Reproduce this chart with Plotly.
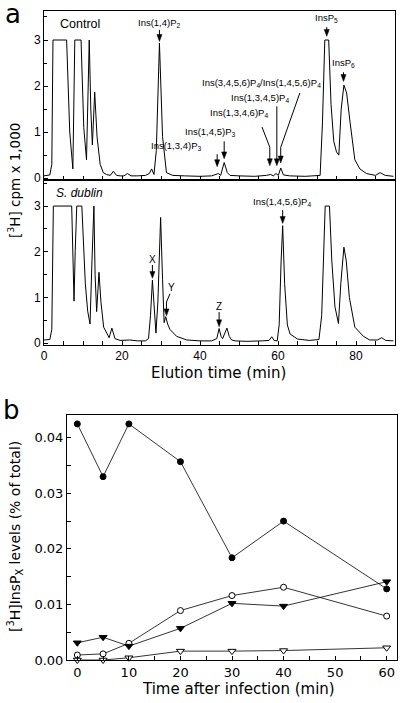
import plotly.graph_objects as go

# ---------------- Panel a : elution profiles ----------------
ctrl_time = [0, 1.5, 2.0, 2.3, 5.8, 6.6, 7.4, 7.9, 9.5, 10.2, 10.9, 11.6, 12.0, 12.4, 13.0,
             13.6, 14.4, 15.2, 16.0, 17.0, 17.8, 18.6, 19.5, 20.5, 21.4, 22.3, 24, 26, 27.0,
             27.6, 28.2, 28.8, 29.6, 30.4, 31.4, 33, 36, 40, 43, 44.7, 45.3, 46.2, 47.0, 47.7,
             50, 54, 57, 58.1, 58.8, 59.5, 60.1, 60.7, 61.4, 63, 67, 70.8, 71.4, 72.0, 73.0,
             73.6, 74.3, 75.0, 75.6, 76.2, 76.9, 77.6, 78.5, 79.7, 81, 82.7, 85, 86.2, 87.5, 89.6]
ctrl_cpm = [0.05, 0.07, 0.3, 3.0, 3.0, 1.0, 0.2, 3.0, 3.0, 1.1, 0.4, 3.0, 1.5, 0.72, 1.87,
            0.9, 0.3, 0.12, 0.08, 0.06, 0.15, 0.06, 0.05, 0.05, 0.1, 0.05, 0.05, 0.06, 0.1,
            0.2, 0.08, 0.6, 2.93, 0.9, 0.12, 0.06, 0.05, 0.04, 0.05, 0.1, 0.06, 0.34, 0.12, 0.06,
            0.05, 0.04, 0.06, 0.08, 0.05, 0.1, 0.06, 0.22, 0.07, 0.05, 0.04, 0.06, 1.2, 3.0, 3.0,
            1.6, 0.8, 0.57, 0.5, 1.5, 2.02, 1.85, 1.2, 0.4, 0.2, 0.1, 0.06, 0.12, 0.06, 0.04]

sd_time = [0, 1.5, 2.0, 2.4, 7.1, 7.4, 7.7, 8.0, 8.4, 9.7, 10.6, 11.2, 11.8, 12.3, 12.8, 13.1,
           13.5, 14.1, 14.6, 15.3, 16.1, 16.7, 17.4, 18.2, 19.5, 22, 24, 26, 26.8, 27.3, 27.8,
           28.3, 28.7, 29.2, 29.9, 30.4, 30.8, 31.2, 31.7, 32.3, 34, 36.6, 40, 43, 44.3, 44.9,
           45.4, 45.8, 46.9, 47.5, 48.1, 49, 52, 56, 57.7, 58.4, 59.0, 59.8, 60.3, 60.8, 61.2,
           61.7, 62.4, 63.1, 63.9, 65, 68, 70.5, 71.2, 72.1, 73.2, 73.8, 74.6, 75.5, 76.1, 76.9,
           77.5, 78.3, 79.7, 81.9, 83.5, 85.5, 86.6, 87.6, 89.6]
sd_cpm = [0.07, 0.08, 0.3, 3.0, 3.0, 1.8, 0.92, 2.0, 3.0, 3.0, 1.3, 0.7, 0.42, 1.8, 3.0, 1.5,
          0.69, 1.55, 0.9, 0.35, 0.2, 0.12, 0.33, 0.1, 0.06, 0.07, 0.05, 0.05, 0.1, 0.6, 1.38,
          0.7, 0.22, 0.9, 2.75, 1.4, 0.45, 0.58, 0.42, 0.3, 0.15, 0.07, 0.05, 0.05, 0.1, 0.32,
          0.15, 0.1, 0.33, 0.15, 0.07, 0.05, 0.04, 0.05, 0.06, 0.14, 0.06, 0.05, 0.4, 1.8, 2.57,
          1.3, 0.4, 0.2, 0.15, 0.09, 0.06, 0.08, 0.6, 3.0, 3.0, 1.8, 0.8, 0.43, 1.3, 2.1,
          1.8, 1.0, 0.35, 0.15, 0.07, 0.07, 0.12, 0.06, 0.05]

# ---------------- Panel b : InsPx levels ----------------
time_b = [0, 5, 10, 20, 30, 40, 60]
filled_circle = [0.0425, 0.0330, 0.0425, 0.0357, 0.0184, 0.0250, 0.0128]
open_circle = [0.0009, 0.0011, 0.0030, 0.0089, 0.0116, 0.0131, 0.0079]
filled_tri = [0.0031, 0.0041, 0.0025, 0.0057, 0.0102, 0.0097, 0.0141]
open_tri = [0.0000, 0.0000, 0.0004, 0.0016, 0.0016, 0.0017, 0.0022]

W, H = 403, 703
def px_x(a, b):
    return [a / W, b / W]
def px_y(top, bottom):
    return [(H - bottom) / H, (H - top) / H]

fig = go.Figure()
fig.add_trace(go.Scatter(x=ctrl_time, y=ctrl_cpm, mode='lines', line=dict(color='black', width=1),
                         xaxis='x', yaxis='y', showlegend=False))
fig.add_trace(go.Scatter(x=sd_time, y=sd_cpm, mode='lines', line=dict(color='black', width=1),
                         xaxis='x2', yaxis='y2', showlegend=False))

series = [
    (open_tri, 'triangle-down', 'white', 7),
    (open_circle, 'circle', 'white', 6),
    (filled_tri, 'triangle-down', 'black', 7),
    (filled_circle, 'circle', 'black', 6),
]
for vals, sym, fill, sz in series:
    fig.add_trace(go.Scatter(x=time_b, y=vals, mode='lines+markers',
                             line=dict(color='black', width=0.8),
                             marker=dict(symbol=sym, size=sz, color=fill,
                                         line=dict(color='black', width=1)),
                             xaxis='x3', yaxis='y3', showlegend=False, cliponaxis=False))

axcommon = dict(showline=True, linecolor='black', linewidth=1, mirror=True, ticks='inside',
                tickcolor='black', ticklen=4, tickwidth=1, showgrid=False, zeroline=False)
fa = dict(family='Liberation Sans, Arial', size=12, color='black')
fb = dict(family='DejaVu Sans', size=13, color='black')

fig.update_layout(
    width=W, height=H, margin=dict(l=0, r=0, t=0, b=0, autoexpand=False),
    plot_bgcolor='white', paper_bgcolor='white',
    xaxis=dict(domain=px_x(44, 395), anchor='y', range=[0, 90], dtick=20, showticklabels=False,
               minor=dict(dtick=5, ticks='inside', ticklen=4, tickcolor='black'), **axcommon),
    yaxis=dict(domain=px_y(11, 180), anchor='x', range=[-0.04, 3.63], tickvals=[0, 1, 2, 3],
               tickfont=fa, minor=dict(dtick=0.5, ticks='inside', ticklen=3, tickcolor='black'),
               **axcommon),
    xaxis2=dict(domain=px_x(44, 395), anchor='y2', range=[0, 90], dtick=20, tickfont=fa,
                minor=dict(dtick=5, ticks='inside', ticklen=4, tickcolor='black'), **axcommon),
    yaxis2=dict(domain=px_y(180, 345), anchor='x2', range=[-0.04, 3.57], tickvals=[0, 1, 2, 3],
                tickfont=fa, minor=dict(dtick=0.5, ticks='inside', ticklen=3, tickcolor='black'),
                **axcommon),
    xaxis3=dict(domain=px_x(67, 397), anchor='y3', range=[-2, 62], dtick=10, tickfont=fb,
                minor=dict(dtick=5, ticks='inside', ticklen=4, tickcolor='black'), **axcommon),
    yaxis3=dict(domain=px_y(415, 660), anchor='x3', range=[0, 0.0441], dtick=0.01,
                tickformat='.2f', tickfont=fb,
                minor=dict(dtick=0.005, ticks='inside', ticklen=4, tickcolor='black'), **axcommon),
)

ann = []
shapes = []
lf = dict(family='Liberation Sans, Arial', size=9.5, color='black')

def label(xr, yr, x, y, text, font=lf):
    ann.append(dict(x=x, y=y, xref=xr, yref=yr, text=text, showarrow=False, font=font,
                    xanchor='center', yanchor='middle'))

def seg(xr, yr, x0, y0, x1, y1):
    shapes.append(dict(type='line', xref=xr, yref=yr, x0=x0, y0=y0, x1=x1, y1=y1,
                       line=dict(color='black', width=1)))

def arrow(xr, yr, x0, y0, x1, y1):
    # vertical leader ending in a small filled head (head ~5 px wide, ~7 px tall)
    hw, hh = 0.65, 0.15
    seg(xr, yr, x0, y0, x1, y1 + hh * 0.8)
    shapes.append(dict(type='path', xref=xr, yref=yr,
                       path=f'M {x1 - hw},{y1 + hh} L {x1 + hw},{y1 + hh} L {x1},{y1} Z',
                       fillcolor='black', line=dict(color='black', width=0.5)))

# Control panel labels
label('x', 'y', 9.2, 3.35, 'Control', font=dict(family='Liberation Sans, Arial', size=12.5, color='black'))
label('x', 'y', 29.6, 3.37, 'Ins(1,4)P<sub>2</sub>')
arrow('x', 'y', 29.6, 3.22, 29.6, 2.97)
label('x', 'y', 72.5, 3.48, 'InsP<sub>5</sub>')
arrow('x', 'y', 72.5, 3.28, 72.5, 3.08)
label('x', 'y', 76.8, 2.5, 'InsP<sub>6</sub>')
arrow('x', 'y', 76.8, 2.3, 76.8, 2.1)
label('x', 'y', 55.8, 2.06, 'Ins(3,4,5,6)P<sub>4</sub>/Ins(1,4,5,6)P<sub>4</sub>')
seg('x', 'y', 65.6, 1.85, 60.7, 0.67)
arrow('x', 'y', 60.7, 0.67, 60.7, 0.33)
label('x', 'y', 55.4, 1.73, 'Ins(1,3,4,5)P<sub>4</sub>')
arrow('x', 'y', 59.7, 1.56, 59.7, 0.27)
label('x', 'y', 50.1, 1.42, 'Ins(1,3,4,6)P<sub>4</sub>')
seg('x', 'y', 55.9, 1.11, 57.9, 0.67)
arrow('x', 'y', 57.9, 0.67, 57.9, 0.27)
label('x', 'y', 42.6, 1.0, 'Ins(1,4,5)P<sub>3</sub>')
arrow('x', 'y', 46.2, 0.8, 46.2, 0.42)
label('x', 'y', 33.8, 0.7, 'Ins(1,3,4)P<sub>3</sub>')
arrow('x', 'y', 44.4, 0.52, 44.4, 0.25)

# S. dublin panel labels
label('x2', 'y2', 9.2, 3.28, '<i>S. dublin</i>', font=dict(family='Liberation Sans, Arial', size=12, color='black'))
label('x2', 'y2', 60.9, 3.08, 'Ins(1,4,5,6)P<sub>4</sub>')
arrow('x2', 'y2', 61.2, 2.91, 61.2, 2.62)
label('x2', 'y2', 27.8, 1.84, 'X', font=dict(family='Liberation Sans, Arial', size=10, color='black'))
arrow('x2', 'y2', 27.8, 1.71, 27.8, 1.42)
label('x2', 'y2', 32.8, 1.22, 'Y', font=dict(family='Liberation Sans, Arial', size=10, color='black'))
seg('x2', 'y2', 32.3, 1.08, 31.4, 0.9)
arrow('x2', 'y2', 31.4, 0.9, 31.4, 0.6)
label('x2', 'y2', 44.9, 0.8, 'Z', font=dict(family='Liberation Sans, Arial', size=10, color='black'))
arrow('x2', 'y2', 44.9, 0.68, 44.9, 0.36)

# Titles & panel letters
ann.append(dict(x=14 / W, y=(H - 181) / H, xref='paper', yref='paper', showarrow=False,
                text='[<sup>3</sup>H] cpm x 1,000', textangle=-90,
                font=dict(family='DejaVu Sans', size=13.5, color='black'), xanchor='center', yanchor='middle'))
ann.append(dict(x=218 / W, y=(H - 373) / H, xref='paper', yref='paper', showarrow=False,
                text='Elution time (min)', font=dict(family='DejaVu Sans', size=15, color='black'),
                xanchor='center', yanchor='middle'))
ann.append(dict(x=15 / W, y=(H - 537) / H, xref='paper', yref='paper', showarrow=False,
                text='[<sup>3</sup>H]InsP<sub>X</sub> levels (% of total)', textangle=-90,
                font=dict(family='DejaVu Sans', size=14, color='black'), xanchor='center', yanchor='middle'))
ann.append(dict(x=238 / W, y=(H - 689) / H, xref='paper', yref='paper', showarrow=False,
                text='Time after infection (min)', font=dict(family='DejaVu Sans', size=15, color='black'),
                xanchor='center', yanchor='middle'))
ann.append(dict(x=13 / W, y=(H - 14) / H, xref='paper', yref='paper', showarrow=False,
                text='a', font=dict(family='DejaVu Sans', size=26, color='black'),
                xanchor='center', yanchor='middle'))
ann.append(dict(x=11 / W, y=(H - 410) / H, xref='paper', yref='paper', showarrow=False,
                text='b', font=dict(family='DejaVu Sans', size=26, color='black'),
                xanchor='center', yanchor='middle'))

fig.update_layout(annotations=ann, shapes=shapes)
fig.write_html('out.html', config={'displayModeBar': False},
               post_script="document.body.style.margin='0';document.body.style.overflow='hidden';"
                           "document.documentElement.style.overflow='hidden';")
